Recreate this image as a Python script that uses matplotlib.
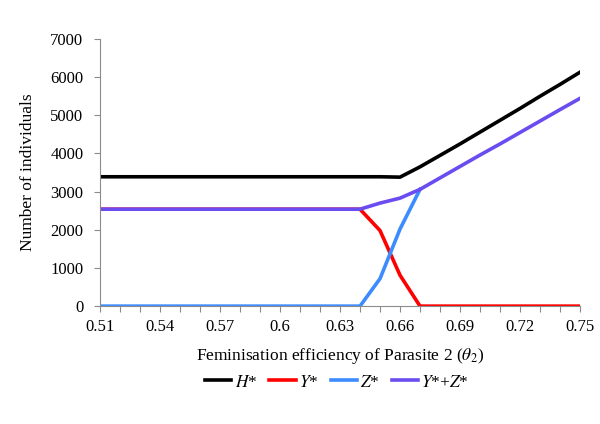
import matplotlib
matplotlib.use("Agg")
import matplotlib.pyplot as plt
import numpy as np

plt.rcParams['font.family'] = ['Liberation Serif', 'DejaVu Serif']
plt.rcParams['mathtext.fontset'] = 'stix'

theta = [0.51, 0.52, 0.53, 0.54, 0.55, 0.56, 0.57, 0.58, 0.59, 0.60, 0.61, 0.62,
         0.63, 0.64, 0.65, 0.66, 0.67, 0.68, 0.69, 0.70, 0.71, 0.72, 0.73, 0.74, 0.75]
H = [3390]*14 + [3390, 3380, 3650, 3950, 4250, 4560, 4870, 5180, 5500, 5810, 6130]
Y = [2540]*14 + [1980, 810, 0, 0, 0, 0, 0, 0, 0, 0, 0]
YZ = [2540]*14 + [2700, 2830, 3060, 3360, 3660, 3960, 4250, 4550, 4850, 5150, 5445]
Z = [0]*14 + [720, 2020, 3060, 3360, 3660, 3960, 4250, 4550, 4850, 5150, 5445]
n_z = 17  # Z* drawn up to where it meets Y*+Z*

labels = ['$H$*', '$Y$*', '$Z$*', '$Y$*+$Z$*']
colors = ['#000000', '#ff0000', '#3c8cff', '#6a4cf0']

fig = plt.figure(figsize=(6, 4.24), dpi=100)
ax = fig.add_axes([0.1667, 0.278, 0.80, 0.630])

ax.plot(theta, H, color=colors[0], lw=2.6, label=labels[0])
ax.plot(theta, Y, color=colors[1], lw=2.6, label=labels[1])
ax.plot(theta[:n_z], Z[:n_z], color=colors[2], lw=2.6, label=labels[2])
ax.plot(theta, YZ, color=colors[3], lw=2.6, label=labels[3])

ax.set_xlim(0.51, 0.75)
ax.set_ylim(0, 7000)
ax.set_xticks(np.round(np.arange(0.51, 0.7501, 0.03), 2))
ax.set_xticks(np.round(np.arange(0.51, 0.7501, 0.01), 2), minor=True)
ax.set_xticklabels(['0.51', '0.54', '0.57', '0.6', '0.63', '0.66', '0.69', '0.72', '0.75'])
ax.set_yticks(range(0, 7001, 1000))
for sp in ['top', 'right']:
    ax.spines[sp].set_visible(False)
for sp in ['left', 'bottom']:
    ax.spines[sp].set_color('#8c8c8c')
    ax.spines[sp].set_linewidth(0.8)
ax.tick_params(axis='both', which='both', colors='#8c8c8c', labelcolor='black',
               labelsize=12, length=4, width=0.8)
ax.tick_params(axis='y', pad=8)
ax.tick_params(axis='x', which='both', length=4.5, pad=5)
ax.set_xlabel(r'Feminisation efficiency of Parasite 2 ($\theta_2$)', fontsize=12.5, labelpad=8)
ax.set_ylabel('Number of individuals', fontsize=12.5, labelpad=10)

fig.legend(loc='center', bbox_to_anchor=(0.562, 0.098), ncol=4, frameon=False,
           fontsize=12.5, handlelength=1.5, handletextpad=0.2, columnspacing=0.7)

fig.savefig('out.png', dpi=100)
